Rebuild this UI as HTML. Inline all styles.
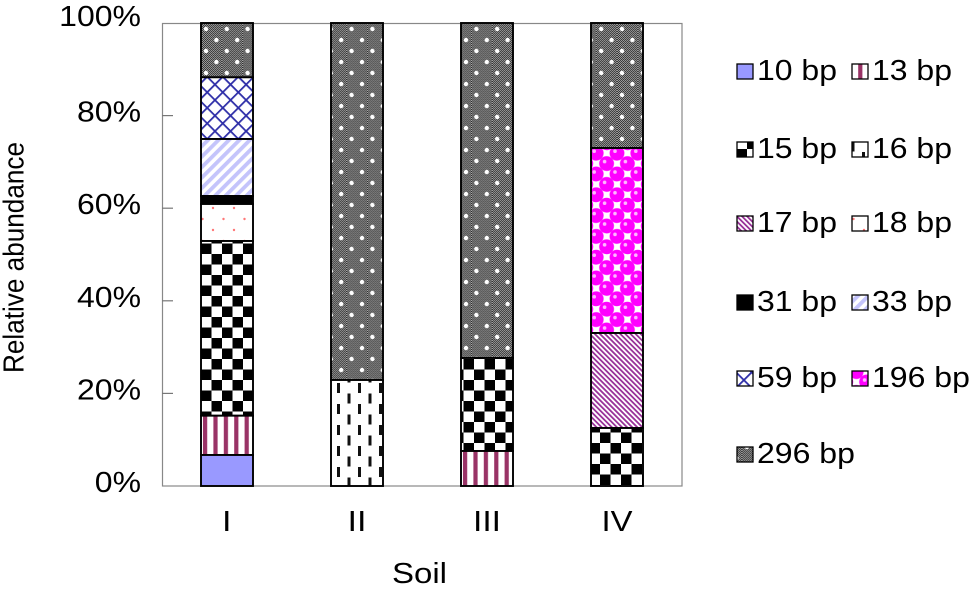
<!DOCTYPE html>
<html>
<head>
<meta charset="utf-8">
<style>
  html, body { margin:0; padding:0; background:#fff; }
  svg { display:block; }
  text { font-family: "Liberation Sans", Arial, sans-serif; fill:#000; }
</style>
</head>
<body>
<svg width="975" height="589" viewBox="0 0 975 589" xmlns="http://www.w3.org/2000/svg">
  <defs>
    <pattern id="p13" patternUnits="userSpaceOnUse" x="201" y="0" width="10.4" height="10">
      <rect width="10.4" height="10" fill="#fff"/>
      <rect x="2" y="0" width="4.2" height="10" fill="#993366"/>
    </pattern>
    <pattern id="p15" patternUnits="userSpaceOnUse" x="201" y="23" width="21" height="21">
      <rect width="21" height="21" fill="#fff"/>
      <rect x="10.5" y="0" width="10.5" height="10.5" fill="#000"/>
      <rect x="0" y="10.5" width="10.5" height="10.5" fill="#000"/>
    </pattern>
    <pattern id="p16" patternUnits="userSpaceOnUse" x="331" y="380" width="21" height="21">
      <rect width="21" height="21" fill="#fff"/>
      <rect x="6" y="3" width="3" height="10" fill="#111"/>
      <rect x="16.5" y="13.5" width="3" height="10" fill="#111"/>
      <rect x="16.5" y="-7.5" width="3" height="10" fill="#111"/>
    </pattern>
    <pattern id="p17" patternUnits="userSpaceOnUse" width="3.6" height="10" patternTransform="rotate(-45)">
      <rect width="3.6" height="10" fill="#fff"/>
      <rect x="0" y="0" width="1.8" height="10" fill="#993399"/>
    </pattern>
    <pattern id="p18" patternUnits="userSpaceOnUse" x="201" y="204" width="21" height="22">
      <rect width="21" height="22" fill="#fff"/>
      <circle cx="12" cy="4" r="1.2" fill="#ff7777"/>
      <circle cx="1.5" cy="15" r="1.2" fill="#ff7777"/>
    </pattern>
    <pattern id="p33" patternUnits="userSpaceOnUse" width="7.4" height="10" patternTransform="rotate(45)">
      <rect width="7.4" height="10" fill="#fff"/>
      <rect x="0" y="0" width="3.8" height="10" fill="#c4c4fb"/>
    </pattern>
    <pattern id="p59" patternUnits="userSpaceOnUse" x="201" y="77" width="11" height="11" patternTransform="rotate(45 227 108)">
      <rect width="11" height="11" fill="#fff"/>
      <rect x="0" y="0" width="1.8" height="11" fill="#2e2ea8"/>
      <rect x="0" y="0" width="11" height="1.8" fill="#2e2ea8"/>
    </pattern>
    <pattern id="p196" patternUnits="userSpaceOnUse" x="591" y="148" width="20.8" height="20.8">
      <rect width="20.8" height="20.8" fill="#fff"/>
      <g fill="#ff00ff">
        <circle cx="-5.2" cy="-5.2" r="7.4"/>
        <circle cx="-5.2" cy="15.6" r="7.4"/>
        <circle cx="5.2" cy="5.2" r="7.4"/>
        <circle cx="5.2" cy="26" r="7.4"/>
        <circle cx="15.6" cy="-5.2" r="7.4"/>
        <circle cx="15.6" cy="15.6" r="7.4"/>
        <circle cx="26" cy="5.2" r="7.4"/>
        <circle cx="26" cy="26" r="7.4"/>
      </g>
      <g fill="#ffb8ff">
        <circle cx="3.2" cy="3.2" r="1.8"/>
        <circle cx="13.6" cy="13.6" r="1.8"/>
      </g>
    </pattern>
    <pattern id="fine" patternUnits="userSpaceOnUse" width="2" height="2">
      <rect width="2" height="2" fill="#a8a8a8"/>
      <rect x="0" y="0" width="1" height="1" fill="#2a2a2a"/>
      <rect x="1" y="1" width="1" height="1" fill="#2a2a2a"/>
    </pattern>
    <pattern id="p296" patternUnits="userSpaceOnUse" x="201" y="23" width="20.8" height="22">
      <rect width="20.8" height="22" fill="url(#fine)"/>
      <circle cx="5" cy="6" r="2.2" fill="#fff"/>
      <circle cx="15.4" cy="17" r="2.2" fill="#fff"/>
    </pattern>
  </defs>

  <rect x="162.5" y="23.5" width="519.5" height="462.5" fill="none" stroke="#888" stroke-width="1.2"/>
  <g stroke="#777" stroke-width="1.2">
    <line x1="162" y1="115.6" x2="173" y2="115.6"/>
    <line x1="162" y1="208.2" x2="173" y2="208.2"/>
    <line x1="162" y1="300.8" x2="173" y2="300.8"/>
    <line x1="162" y1="393.4" x2="173" y2="393.4"/>
  </g>

  <g stroke="#000" stroke-width="1.9">
    <rect x="201" y="23" width="52" height="54.3" fill="url(#p296)"/>
    <rect x="201" y="77.3" width="52" height="61.7" fill="url(#p59)"/>
    <rect x="201" y="139" width="52" height="57" fill="url(#p33)"/>
    <rect x="201" y="196" width="52" height="8" fill="#000"/>
    <rect x="201" y="204" width="52" height="37" fill="url(#p18)"/>
    <rect x="201" y="241" width="52" height="174.7" fill="url(#p15)"/>
    <rect x="201" y="415.7" width="52" height="39.3" fill="url(#p13)"/>
    <rect x="201" y="455" width="52" height="31" fill="#9999ff"/>

    <rect x="331" y="23" width="52" height="357" fill="url(#p296)"/>
    <rect x="331" y="380" width="52" height="106" fill="url(#p16)"/>

    <rect x="461" y="23" width="52" height="335" fill="url(#p296)"/>
    <rect x="461" y="358" width="52" height="93" fill="url(#p15)"/>
    <rect x="461" y="451" width="52" height="35" fill="url(#p13)"/>

    <rect x="591" y="23" width="52" height="125" fill="url(#p296)"/>
    <rect x="591" y="148" width="52" height="185" fill="url(#p196)"/>
    <rect x="591" y="333" width="52" height="95" fill="url(#p17)"/>
    <rect x="591" y="428" width="52" height="58" fill="url(#p15)"/>
  </g>

  <g font-size="29">
    <text x="59.2" y="26" textLength="81.8" lengthAdjust="spacingAndGlyphs">100%</text>
    <text x="77" y="121.6" textLength="64" lengthAdjust="spacingAndGlyphs">80%</text>
    <text x="77" y="214.2" textLength="64" lengthAdjust="spacingAndGlyphs">60%</text>
    <text x="77" y="306.8" textLength="64" lengthAdjust="spacingAndGlyphs">40%</text>
    <text x="77" y="399.4" textLength="64" lengthAdjust="spacingAndGlyphs">20%</text>
    <text x="94.8" y="492" textLength="46.2" lengthAdjust="spacingAndGlyphs">0%</text>
  </g>

  <g font-size="29">
    <text x="222" y="531" textLength="9.5" lengthAdjust="spacingAndGlyphs">I</text>
    <text x="347.5" y="531" textLength="19" lengthAdjust="spacingAndGlyphs">II</text>
    <text x="473" y="531" textLength="28" lengthAdjust="spacingAndGlyphs">III</text>
    <text x="601.5" y="531" textLength="31" lengthAdjust="spacingAndGlyphs">IV</text>
    <text x="392" y="583" textLength="55" lengthAdjust="spacingAndGlyphs">Soil</text>
  </g>

  <text font-size="29" transform="translate(23.5 373) rotate(-90)" x="0" y="0" textLength="231" lengthAdjust="spacingAndGlyphs">Relative abundance</text>

  <g stroke="#000" stroke-width="1.3">
    <rect x="737" y="64" width="16" height="15" fill="#9999ff"/>
    <rect x="852" y="64" width="16" height="15" fill="url(#p13)"/>
    <rect x="737" y="142" width="16" height="15" fill="url(#p15)"/>
    <rect x="852" y="142" width="16" height="15" fill="url(#p16)"/>
    <rect x="737" y="216" width="16" height="15" fill="url(#p17)"/>
    <rect x="852" y="216" width="16" height="15" fill="url(#p18)"/>
    <rect x="737" y="295" width="16" height="15" fill="#000"/>
    <rect x="852" y="295" width="16" height="15" fill="url(#p33)"/>
    <rect x="737" y="371" width="16" height="15" fill="url(#p59)"/>
    <rect x="852" y="371" width="16" height="15" fill="url(#p196)"/>
    <rect x="737" y="447" width="16" height="15" fill="url(#p296)"/>
  </g>
  <g font-size="29">
    <text x="757" y="80" textLength="80" lengthAdjust="spacingAndGlyphs">10 bp</text>
    <text x="872" y="80" textLength="80" lengthAdjust="spacingAndGlyphs">13 bp</text>
    <text x="757" y="158" textLength="80" lengthAdjust="spacingAndGlyphs">15 bp</text>
    <text x="872" y="158" textLength="80" lengthAdjust="spacingAndGlyphs">16 bp</text>
    <text x="757" y="232" textLength="80" lengthAdjust="spacingAndGlyphs">17 bp</text>
    <text x="872" y="232" textLength="80" lengthAdjust="spacingAndGlyphs">18 bp</text>
    <text x="757" y="311" textLength="80" lengthAdjust="spacingAndGlyphs">31 bp</text>
    <text x="872" y="311" textLength="80" lengthAdjust="spacingAndGlyphs">33 bp</text>
    <text x="757" y="387" textLength="80" lengthAdjust="spacingAndGlyphs">59 bp</text>
    <text x="872" y="387" textLength="97.9" lengthAdjust="spacingAndGlyphs">196 bp</text>
    <text x="757" y="463" textLength="97.9" lengthAdjust="spacingAndGlyphs">296 bp</text>
  </g>
</svg>
</body>
</html>
